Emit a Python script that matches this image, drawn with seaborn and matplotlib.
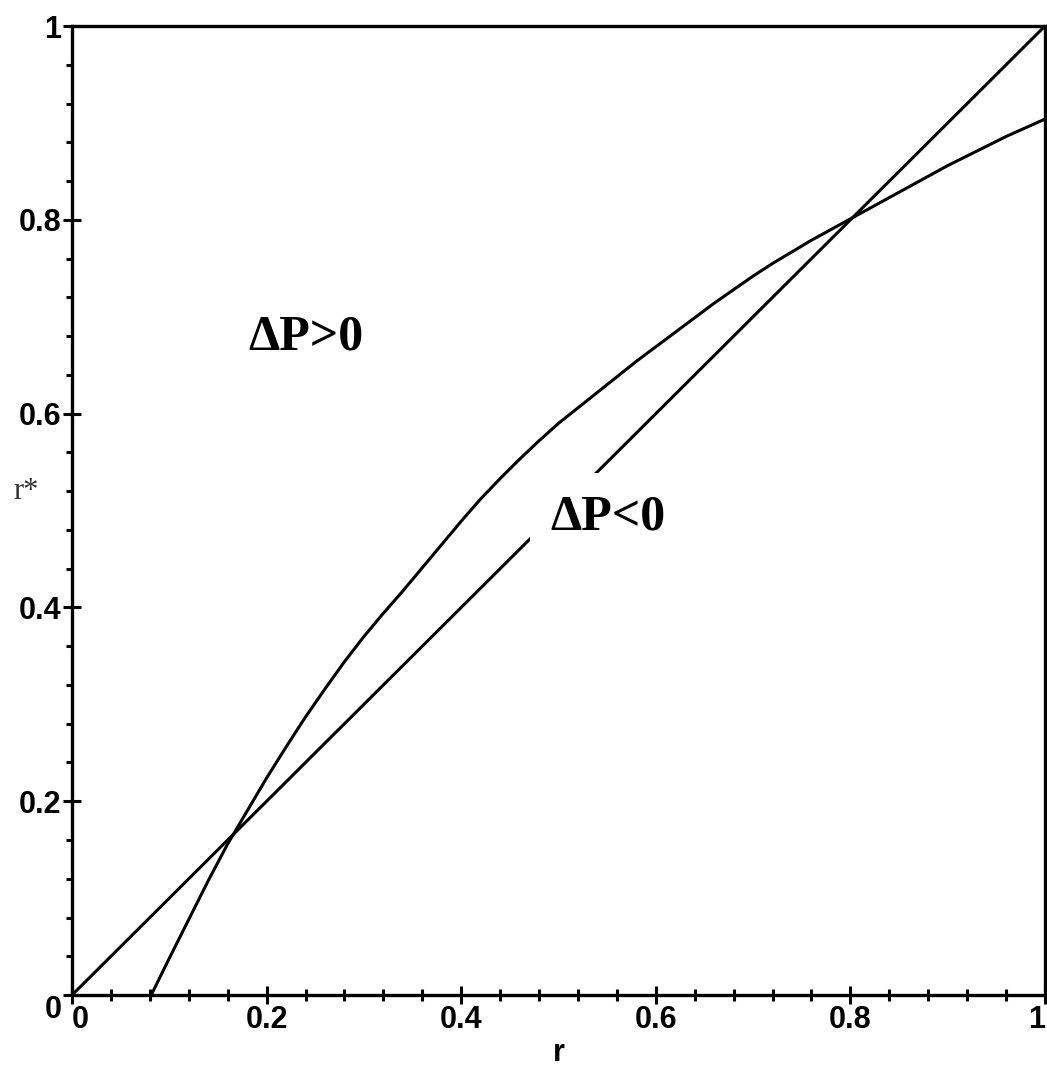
import numpy as np
import pandas as pd
import matplotlib
matplotlib.use("Agg")
import matplotlib.pyplot as plt
import seaborn as sns

# --- data ---
r_curve = [0.0814, 0.10, 0.12, 0.14, 0.16, 0.18, 0.20, 0.22, 0.24, 0.26, 0.28,
           0.30, 0.32, 0.34, 0.36, 0.38, 0.40, 0.42, 0.44, 0.46, 0.48, 0.50,
           0.52, 0.54, 0.56, 0.58, 0.60, 0.62, 0.64, 0.66, 0.68, 0.70,
           0.72, 0.74, 0.76, 0.78, 0.80, 0.82, 0.84, 0.86, 0.88, 0.90,
           0.92, 0.94, 0.96, 0.98, 1.00]
rstar_curve = [0.0, 0.038, 0.078, 0.118, 0.156, 0.190, 0.224, 0.256, 0.287, 0.316, 0.344,
               0.370, 0.394, 0.417, 0.441, 0.465, 0.489, 0.512, 0.533, 0.553, 0.572, 0.590,
               0.606, 0.622, 0.638, 0.654, 0.669, 0.684, 0.699, 0.714, 0.728, 0.742,
               0.755, 0.767, 0.779, 0.790, 0.801, 0.812, 0.823, 0.834, 0.845, 0.856,
               0.866, 0.876, 0.886, 0.895, 0.904]
r_diag = [0.0, 1.0]
rstar_diag = [0.0, 1.0]

x_ticks = [0, 0.2, 0.4, 0.6, 0.8, 1]
x_tick_labels = ["0", "0.2", "0.4", "0.6", "0.8", "1"]
y_ticks = [0, 0.2, 0.4, 0.6, 0.8, 1]
y_tick_labels = ["0", "0.2", "0.4", "0.6", "0.8", "1"]

label_pos = "ΔP>0"
label_neg = "ΔP<0"

df_curve = pd.DataFrame({"r": r_curve, "rstar": rstar_curve})
df_diag = pd.DataFrame({"r": r_diag, "rstar": rstar_diag})

sns.set_style("white")
plt.rcParams["font.family"] = ["Liberation Sans", "DejaVu Sans"]
plt.rcParams["text.color"] = "black"
plt.rcParams["axes.labelcolor"] = "black"
plt.rcParams["xtick.color"] = "black"
plt.rcParams["ytick.color"] = "black"

fig = plt.figure(figsize=(10.47, 10.72), dpi=100)
ax = fig.add_axes([0.0688, 0.0718, 0.9293, 0.9039])

sns.lineplot(data=df_diag, x="r", y="rstar", ax=ax, color="black", linewidth=2.2,
             estimator=None, sort=False, zorder=2)
sns.lineplot(data=df_curve, x="r", y="rstar", ax=ax, color="black", linewidth=2.2,
             estimator=None, sort=False, zorder=2)

ax.set_xlim(0, 1)
ax.set_ylim(0, 1)

for s in ax.spines.values():
    s.set_visible(True)
    s.set_color("black")
    s.set_linewidth(2.4)

ax.set_xticks(x_ticks)
ax.set_yticks(y_ticks)
ax.set_xticks(np.arange(0, 1.0001, 0.04), minor=True)
ax.set_yticks(np.arange(0, 1.0001, 0.04), minor=True)
ax.set_xticklabels(x_tick_labels, fontsize=22, fontweight="bold", color="black")
ax.set_yticklabels(y_tick_labels, fontsize=22, fontweight="bold", color="black")

ax.tick_params(axis="x", which="both", bottom=True, top=False)
ax.tick_params(axis="y", which="both", left=True, right=False)
ax.tick_params(axis="x", which="major", direction="inout", length=13, width=2.2,
               color="black", pad=1)
ax.tick_params(axis="x", which="minor", direction="inout", length=8, width=2.2,
               color="black")
ax.tick_params(axis="y", which="major", direction="inout", length=13, width=2.2,
               color="black", pad=1)
ax.tick_params(axis="y", which="minor", direction="out", length=4, width=2.2,
               color="black")

xl = ax.get_xticklabels()
xl[0].set_horizontalalignment("left")
xl[-1].set_horizontalalignment("right")
yl = ax.get_yticklabels()
yl[0].set_verticalalignment("top")

ax.set_xlabel("r", fontsize=22, fontweight="bold", labelpad=2, color="black")
ax.set_ylabel("r*", fontsize=22, family=["Liberation Serif", "DejaVu Serif"],
              rotation=0, color="#333333", labelpad=12)
ax.yaxis.set_label_coords(-0.047, 0.505)

ax.text(0.2405, 0.679, label_pos, fontsize=36, family=["Liberation Serif", "DejaVu Serif"],
        fontweight="bold", ha="center", va="center", zorder=5, color="black")
ax.text(0.551, 0.493, label_neg, fontsize=36, family=["Liberation Serif", "DejaVu Serif"],
        fontweight="bold", ha="center", va="center", zorder=5, color="black",
        bbox=dict(boxstyle="square,pad=0.42", facecolor="white", edgecolor="none"))

fig.savefig("out.png", dpi=100, facecolor="white")
